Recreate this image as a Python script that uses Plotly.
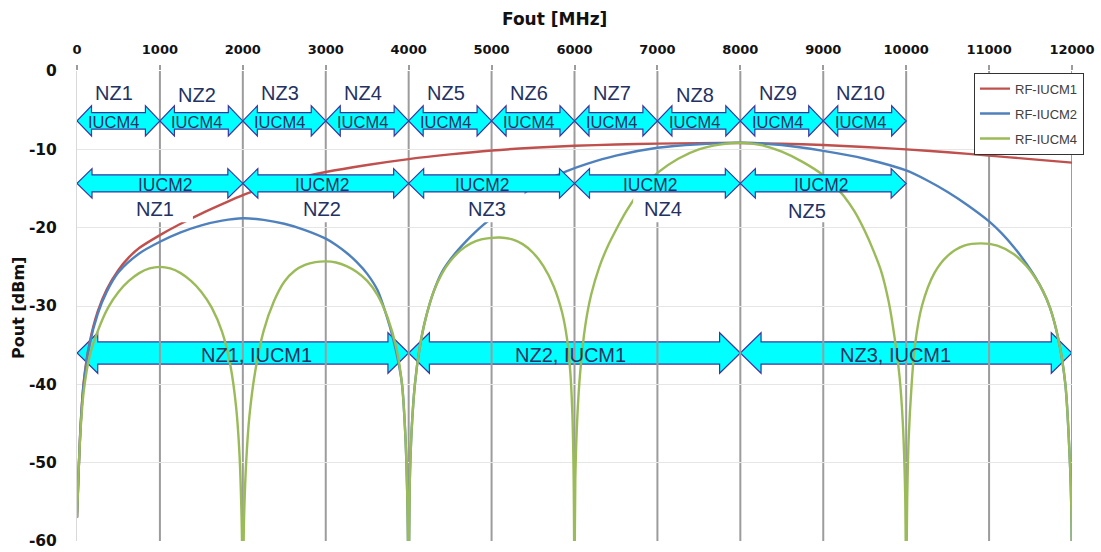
import plotly.graph_objects as go

# ---------------- data ----------------
X_TICKS = [0, 1000, 2000, 3000, 4000, 5000, 6000, 7000, 8000, 9000, 10000, 11000, 12000]
X_TICK_TEXT = ["0", "1000", "2000", "3000", "4000", "5000", "6000", "7000", "8000", "9000",
               "10000", "11000", "12000"]
Y_TICKS = [0, -10, -20, -30, -40, -50, -60]
Y_TICK_TEXT = ["0", "-10", "-20", "-30", "-40", "-50", "-60"]

RED_X = [0, 20, 45, 80, 150, 250, 358, 500, 625, 750, 1000, 1250, 1500, 1750, 2000, 2250,
         2500, 3000, 3500, 4000, 4500, 5000, 5500, 6000, 6500, 7000, 7500, 8000, 8500,
         9000, 9500, 10000, 10500, 11000, 11500, 12000]
RED_Y = [-57.0, -51.0, -45.0, -39.8, -34.8, -30.7, -27.9, -25.4, -23.8, -22.6, -20.95,
         -19.5, -18.2, -17.0, -15.85, -14.9, -14.1, -12.9, -12.0, -11.25, -10.65, -10.15,
         -9.8, -9.55, -9.38, -9.27, -9.21, -9.2, -9.28, -9.45, -9.7, -10.0, -10.38, -10.8,
         -11.25, -11.7]

BLUE_X = [0, 20, 45, 80, 150, 250, 358, 500, 750, 1000, 1250, 1500, 1750, 2000, 2250, 2500,
          2750, 3000, 3125, 3250, 3375, 3500, 3625, 3735, 3815, 3880, 3920, 3960, 3985, 4000,
          4012, 4035, 4075, 4130, 4200, 4300, 4400, 4500, 4600, 4700, 4800, 4900, 5150, 5400,
          5650, 5900, 6150, 6500, 7000, 7500, 8000, 8500, 9000, 9500, 10000, 10250, 10500,
          10750, 11000, 11150, 11300, 11450, 11550, 11650, 11734, 11835, 11920, 11975,
          11992, 12000]
BLUE_Y = [-57.0, -51.0, -45.0, -40.0, -35.0, -31.0, -28.2, -25.7, -23.3, -21.8, -20.6, -19.7,
          -19.1, -18.8, -19.0, -19.5, -20.3, -21.4, -22.2, -23.2, -24.4, -25.9, -28.0, -31.3,
          -34.3, -37.4, -40.0, -46.5, -55.0, -66.0,
          -53.0, -46.0, -40.0, -35.5, -31.8, -28.2, -25.7, -24.1, -22.8, -21.65, -20.6,
          -19.65, -17.55, -15.5, -14.0, -12.8, -11.85, -10.8, -9.8, -9.35, -9.15, -9.45,
          -10.2, -11.2, -12.7, -13.95, -15.45, -17.2, -19.2, -20.7, -22.5, -24.6, -26.2,
          -28.1, -30.2, -34.2, -40.0, -50.0, -56.0, -66.0]

GREEN_X = [0, 20, 45, 80, 150, 250, 375, 500, 625, 750, 875, 1000, 1125, 1250, 1375, 1500,
           1625, 1750, 1850, 1920, 1960, 1985, 2000,
           2015, 2040, 2080, 2150, 2250, 2375, 2500, 2625, 2750, 2875, 3000, 3125, 3250,
           3375, 3500, 3625, 3750, 3850, 3920, 3960, 3985, 4000,
           4012, 4035, 4075, 4130, 4200, 4300, 4400, 4500, 4625, 4750, 4875, 5000, 5100,
           5250, 5375, 5500, 5625, 5750, 5850, 5910, 5950, 5975, 5990, 6000,
           6010, 6035, 6070, 6130, 6200, 6300, 6400, 6500, 6625, 6750, 6875, 7000, 7250,
           7500, 7750, 8000, 8250, 8500, 8750, 9000, 9125, 9250, 9375, 9500, 9600, 9700,
           9790, 9860, 9920, 9960, 9988, 10000,
           10012, 10030, 10066, 10106, 10190, 10340, 10500, 10700, 10900, 11100, 11300,
           11450, 11550, 11650, 11734, 11835, 11920, 11975, 11992, 12000]
GREEN_Y = [-57.0, -51.0, -45.5, -41.0, -36.5, -33.2, -30.2, -28.2, -26.8, -25.8, -25.2, -25.0,
           -25.2, -25.8, -26.8, -28.2, -30.2, -33.3, -37.6, -43.0, -49.0, -57.0, -66.0,
           -57.0, -50.0, -44.0, -38.3, -33.2, -29.4, -26.9, -25.5, -24.75, -24.4, -24.3,
           -24.45, -24.9, -25.65, -26.8, -28.6, -31.6, -35.3, -40.0, -46.5, -55.0, -66.0,
           -53.0, -46.0, -40.0, -35.5, -31.8, -28.2, -25.9, -24.3, -22.9, -22.0, -21.5,
           -21.3, -21.25, -21.5, -22.1, -23.2, -24.9, -27.5, -30.8, -34.2, -38.5, -44.0,
           -52.0, -66.0,
           -52.0, -44.0, -38.3, -32.5, -28.6, -25.0, -22.4, -20.3, -17.9, -15.9, -14.3,
           -13.0, -11.2, -10.0, -9.4, -9.15, -9.45, -10.3, -11.6, -13.3, -14.5, -16.0,
           -17.9, -20.4, -22.8, -25.6, -29.5, -34.0, -39.0, -45.0, -54.0, -66.0,
           -55.0, -47.0, -40.0, -35.0, -30.0, -25.8, -23.6, -22.3, -22.0, -22.3, -23.4,
           -24.9, -26.3, -28.1, -30.2, -34.2, -40.0, -50.0, -56.0, -66.0]

SERIES_NAMES = ["RF-IUCM1", "RF-IUCM2", "RF-IUCM4"]

# Nyquist-zone annotations
IUCM4_EDGES = [0, 1000, 2000, 3000, 4000, 5000, 6000, 7000, 8000, 9000, 10000]
IUCM4_ZONES = ["NZ1", "NZ2", "NZ3", "NZ4", "NZ5", "NZ6", "NZ7", "NZ8", "NZ9", "NZ10"]
IUCM2_EDGES = [0, 2000, 4000, 6000, 8000, 10000]
IUCM2_ZONES = ["NZ1", "NZ2", "NZ3", "NZ4", "NZ5"]
IUCM1_EDGES = [0, 4000, 8000, 12000]
IUCM1_ZONES = ["NZ1, IUCM1", "NZ2, IUCM1", "NZ3, IUCM1"]

# ---------------- styling / layout constants ----------------
RED, BLUE, GREEN = "#C0504D", "#4F81BD", "#9BBB59"
CYAN, OUTLINE, TXT = "#00FFFF", "#3B35A0", "#233163"
ANN_FONT = "Liberation Sans"
AX_FONT = "DejaVu Sans"

fig = go.Figure()
for name, xs, ys, col in [(SERIES_NAMES[0], RED_X, RED_Y, RED),
                          (SERIES_NAMES[1], BLUE_X, BLUE_Y, BLUE),
                          (SERIES_NAMES[2], GREEN_X, GREEN_Y, GREEN)]:
    fig.add_trace(go.Scatter(x=xs, y=ys, name=name, mode="lines", legendgroup=name,
                             line=dict(color=col, width=2.4, shape="spline", smoothing=0.8)))


def arrow_path(x0, x1, yc, shaft, head, hlen):
    pts = [(x0, yc), (x0 + hlen, yc + head), (x0 + hlen, yc + shaft), (x1 - hlen, yc + shaft),
           (x1 - hlen, yc + head), (x1, yc), (x1 - hlen, yc - head), (x1 - hlen, yc - shaft),
           (x0 + hlen, yc - shaft), (x0 + hlen, yc - head)]
    return "M" + " L".join(f"{x},{y}" for x, y in pts) + " Z"


shapes = []
# lower (IUCM1) arrows: behind grid and curves
for a, b in zip(IUCM1_EDGES[:-1], IUCM1_EDGES[1:]):
    shapes.append(dict(type="path", xref="x", yref="y", layer="below",
                       path=arrow_path(a, b, -36.0, 1.41, 2.58, 250),
                       fillcolor=CYAN, line=dict(color=OUTLINE, width=1.2)))
# vertical grid lines
for v in X_TICKS[1:]:
    shapes.append(dict(type="line", xref="x", yref="y", layer="below", x0=v, x1=v,
                       y0=-60, y1=0, line=dict(color="#9C9C9C", width=2)))

# white text boxes below the IUCM2 arrows
LOW_LABEL_X = [940, 2951, 4940, 7070, 8800]
LOW_BOX_RIGHT = [458, 458, 458, 458, 300]
for cx, rr in zip(LOW_LABEL_X, LOW_BOX_RIGHT):
    shapes.append(dict(type="rect", xref="x", yref="y", layer="above",
                       x0=cx - 362, x1=cx + rr, y0=-19.3, y1=-15.4,
                       fillcolor="white", line=dict(width=0)))

# upper arrows (above curves)
for a, b in zip(IUCM4_EDGES[:-1], IUCM4_EDGES[1:]):
    shapes.append(dict(type="path", xref="x", yref="y", layer="above",
                       path=arrow_path(a, b, -6.37, 1.06, 1.92, 175),
                       fillcolor=CYAN, line=dict(color=OUTLINE, width=1.2)))
for a, b in zip(IUCM2_EDGES[:-1], IUCM2_EDGES[1:]):
    shapes.append(dict(type="path", xref="x", yref="y", layer="above",
                       path=arrow_path(a, b, -14.35, 1.09, 1.88, 181),
                       fillcolor=CYAN, line=dict(color=OUTLINE, width=1.2)))

ann = []
for i, (a, b) in enumerate(zip(IUCM4_EDGES[:-1], IUCM4_EDGES[1:])):
    c = (a + b) / 2
    yl = -3.1 if IUCM4_ZONES[i] in ("NZ2", "NZ8") else -2.75
    ann.append(dict(x=c - 50, y=yl, text=IUCM4_ZONES[i], showarrow=False,
                    font=dict(family=ANN_FONT, size=20, color=TXT)))
    ann.append(dict(x=c - 55, y=-6.5, text="IUCM4", showarrow=False,
                    font=dict(family=ANN_FONT, size=16.5, color=TXT)))
IUCM2_TEXT_X = [1056, 2951, 4890, 6910, 8972]
for i, cx in enumerate(IUCM2_TEXT_X):
    ann.append(dict(x=cx, y=-14.55, text="IUCM2", showarrow=False,
                    font=dict(family=ANN_FONT, size=17.5, color=TXT)))
    ann.append(dict(x=LOW_LABEL_X[i], y=-17.85 if i == 4 else -17.6, text=IUCM2_ZONES[i],
                    showarrow=False, font=dict(family=ANN_FONT, size=20, color=TXT)))
IUCM1_TEXT_X = [2160, 5955, 9875]
for i, cx in enumerate(IUCM1_TEXT_X):
    ann.append(dict(x=cx, y=-36.2, text=IUCM1_ZONES[i], showarrow=False,
                    font=dict(family=ANN_FONT, size=20, color=TXT)))

# axis titles
ann.append(dict(xref="paper", yref="paper", x=0.4794, y=1.1106, xanchor="center",
                yanchor="middle", text="<b>Fout [MHz]</b>", showarrow=False,
                font=dict(family=AX_FONT, size=17, color="#111111")))
ann.append(dict(xref="paper", yref="paper", x=-0.0588, y=0.497, xanchor="center",
                yanchor="middle", text="<b>Pout [dBm]</b>", textangle=-90, showarrow=False,
                font=dict(family=AX_FONT, size=16, color="#111111")))

fig.update_layout(
    width=1101, height=552, template="none",
    paper_bgcolor="white", plot_bgcolor="white",
    margin=dict(l=77, r=29, t=71, b=11, autoexpand=False),
    shapes=shapes, annotations=ann, showlegend=True,
    legend=dict(x=0.9015, y=0.9964, xanchor="left", yanchor="top", bgcolor="white",
                bordercolor="#333333", borderwidth=1, tracegroupgap=5,
                font=dict(family="Liberation Sans", size=13, color="#404040")),
    xaxis=dict(side="top", range=[0, 12000], tickvals=X_TICKS, ticktext=X_TICK_TEXT,
               showgrid=False, zeroline=False, showline=False, ticks="outside", ticklen=5,
               tickwidth=2, tickcolor="#9C9C9C", ticklabelstandoff=6,
               tickfont=dict(family=AX_FONT, size=13, color="#111111", weight="bold")),
    yaxis=dict(range=[-60, 0], tickvals=Y_TICKS, ticktext=Y_TICK_TEXT, showgrid=True,
               gridcolor="#E6E6E6", gridwidth=1, zeroline=False, showline=True,
               linecolor="#D9D9D9", linewidth=1, ticks="", ticklabelstandoff=16,
               tickfont=dict(family=AX_FONT, size=15.5, color="#111111", weight="bold")),
)

fig.write_html("out.html")
